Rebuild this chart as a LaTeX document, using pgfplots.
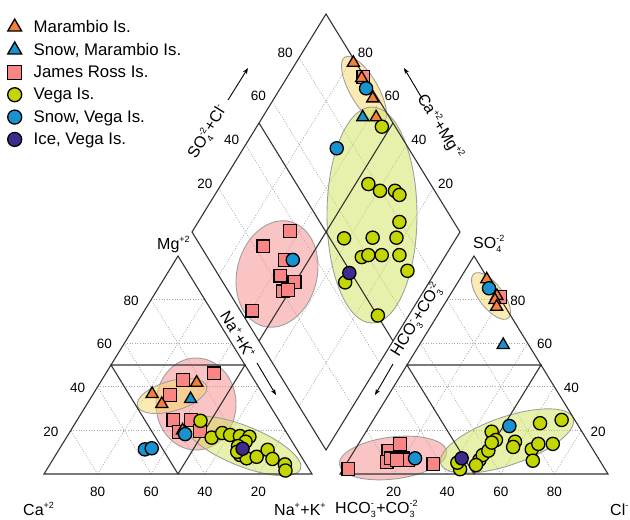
\documentclass[border=0pt]{standalone}
\usepackage{pgfplots}
\pgfplotsset{compat=1.18}
\usepackage{pgfplotstable}
\usepackage{amsmath}
\usepackage{fontspec}
\setmainfont{Liberation Sans}
\usetikzlibrary{arrows.meta}

\definecolor{cMar}{HTML}{F47F3E}
\definecolor{cSnow}{HTML}{1A92D0}
\definecolor{cJR}{HTML}{F98585}
\definecolor{cVega}{HTML}{C3D600}
\definecolor{cIce}{HTML}{3D2B8E}
\definecolor{eYel}{HTML}{F8D867}
\definecolor{ePink}{HTML}{F58A8A}
\definecolor{eGreen}{HTML}{D0E35A}
\definecolor{gridc}{HTML}{A8A8A8}
\definecolor{framec}{HTML}{333333}

\newcommand{\sups}[1]{\ensuremath{^{\text{\fontsize{9}{9}\selectfont#1}}}}
\newcommand{\subsup}[2]{\ensuremath{_{\text{\fontsize{9}{9}\selectfont#1}}^{\text{\fontsize{9}{9}\selectfont#2}}}}

% ---------------- data (percent of meq) ----------------
% cation triangle: Mg, Na+K
\pgfplotstableread{
Mg NaK
36.7 22.0
32.1 27.9
41.9 36.0
20.0 41.7
}\marL
\pgfplotstableread{
Mg NaK
34.4 37.5
}\snowmarL
\pgfplotstableread{
Mg NaK
46.2 40.4
43.1 30.3
36.2 28.9
24.8 35.9
24.8 42.5
19.3 40.7
19.7 48.4
}\jrL
\pgfplotstableread{
Mg NaK
24.4 46.2
16.7 54.2
18.8 57.1
17.9 60.5
17.4 64.4
17.1 68.1
14.8 67.8
8.7 68.8
7.2 72.0
7.9 75.4
11.1 77.9
6.9 81.8
4.4 87.7
1.6 89.3
12.8 66.0
10.2 67.0
}\vegaL
\pgfplotstableread{
Mg NaK
18.3 43.5
11.3 32.0
11.8 34.3
}\snowvegaL
\pgfplotstableread{
Mg NaK
11.6 68.3
}\iceL

% anion triangle: SO4, Cl
\pgfplotstableread{
SO4 Cl
89.3 10.1
81.7 17.7
79.8 17.9
76.7 20.1
}\marR
\pgfplotstableread{
SO4 Cl
59.2 31.3
}\snowmarR
\pgfplotstableread{
SO4 Cl
81.3 19.1
2.2 2.0
10.7 12.7
13.8 15.5
5.6 14.6
7.2 15.4
7.2 20.0
6.4 22.3
4.6 32.5
6.4 18.0
}\jrR
\pgfplotstableread{
SO4 Cl
2.2 43.7
5.2 41.2
6.4 48.8
8.7 48.9
10.7 50.0
19.4 46.9
15.6 50.4
14.4 49.4
14.8 57.9
11.3 65.9
6.1 68.9
13.8 67.1
23.3 63.0
13.8 72.5
24.8 70.3
4.1 48.7
12.4 58.4
}\vegaR
\pgfplotstableread{
SO4 Cl
85.2 13.0
7.2 24.4
22.0 52.2
}\snowvegaR
\pgfplotstableread{
SO4 Cl
7.2 41.8
}\iceR

% diamond: SO4+Cl, Na+K
\pgfplotstableread{
SC NaK
99.0 21.4
98.6 28.0
98.1 36.8
95.0 42.4
}\marD
\pgfplotstableread{
SC NaK
90.0 37.4
}\snowmarD
\pgfplotstableread{
SC NaK
99.4 28.4
36.8 36.3
23.3 29.9
28.3 41.1
23.0 43.0
26.8 49.7
20.3 47.5
22.5 49.0
4.5 40.6
}\jrD
\pgfplotstableread{
SC NaK
95.0 46.7
76.8 54.8
79.6 60.7
85.2 66.3
85.9 68.9
79.7 75.1
55.3 58.2
66.1 68.7
75.0 77.6
57.6 69.1
60.5 71.1
65.5 76.1
72.1 82.7
71.5 89.3
45.6 68.7
50.2 88.5
}\vegaD
\pgfplotstableread{
SC NaK
97.9 32.0
31.2 44.0
73.2 34.8
}\snowvegaD
\pgfplotstableread{
SC NaK
49.3 68.1
}\iceD

% placement of the three fields on the page
\pgfplotsset{
  table/lefttri/.style={x expr={44+2.68*(\thisrow{NaK}+0.5*\thisrow{Mg})}, y expr={474-2.18*\thisrow{Mg}}},
  table/righttri/.style={x expr={340+2.68*(\thisrow{Cl}+0.5*\thisrow{SO4})}, y expr={474-2.18*\thisrow{SO4}}},
  table/diam/.style={x expr={326+1.34*(\thisrow{SC}+\thisrow{NaK}-100)}, y expr={450-2.18*(\thisrow{SC}+100-\thisrow{NaK})}},
  pMar/.style={only marks, mark=triangle*, mark size=7pt, draw=black, fill=cMar, line width=1.3pt, forget plot},
  pSnowMar/.style={only marks, mark=triangle*, mark size=7pt, draw=black, fill=cSnow, line width=1.3pt, forget plot},
  pJR/.style={only marks, mark=square*, mark size=6.4pt, draw=black, fill=cJR, line width=1.3pt, forget plot},
  pVega/.style={only marks, mark=*, mark size=6.6pt, draw=black, fill=cVega, line width=1.3pt, forget plot},
  pSnowVega/.style={only marks, mark=*, mark size=6.6pt, draw=black, fill=cSnow, line width=1.3pt, forget plot},
  pIce/.style={only marks, mark=*, mark size=6.6pt, draw=black, fill=cIce, line width=1.3pt, forget plot},
}
\tikzset{
  frame/.style={draw=framec, line width=1.1pt, line join=miter},
  grd/.style={draw=gridc, line width=0.7pt, dash pattern=on 1pt off 1.6pt},
  ell/.style={draw=gray!75, line width=0.9pt, fill opacity=0.5},
  tl/.style={font=\fontsize{13.5}{15}\selectfont, inner sep=0pt},
  lab/.style={font=\fontsize{16}{18}\selectfont, inner sep=0pt},
  arr/.style={-{Stealth[length=6pt,width=4.5pt]}, line width=0.9pt},
}

\begin{document}
\begin{tikzpicture}
\begin{axis}[
  name=piper,
  width=630pt, height=520pt, scale only axis,
  xmin=0, xmax=630, ymin=0, ymax=520, y dir=reverse,
  hide axis, clip=false,
  legend style={at={(axis cs:7.5,18)}, anchor=north west, draw=none, fill=none,
    font=\fontsize{16.8}{18.5}\selectfont, row sep=5.2pt, inner sep=0pt,
    /tikz/every odd column/.append style={column sep=10pt}},
  legend cell align=left,
]

% ---- grid lines (20 % steps) ----
\pgfplotsinvokeforeach{20,40,60,80}{
  % cation triangle
  \draw[grd] (axis cs:{44+1.34*#1},{474-2.18*#1}) -- (axis cs:{312-1.34*#1},{474-2.18*#1});
  \draw[grd] (axis cs:{44+2.68*#1},474) -- (axis cs:{44+2.68*#1+1.34*(100-#1)},{474-2.18*(100-#1)});
  \draw[grd] (axis cs:{44+2.68*#1},474) -- (axis cs:{44+1.34*#1},{474-2.18*#1});
  % anion triangle
  \draw[grd] (axis cs:{340+1.34*#1},{474-2.18*#1}) -- (axis cs:{608-1.34*#1},{474-2.18*#1});
  \draw[grd] (axis cs:{340+2.68*#1},474) -- (axis cs:{340+2.68*#1+1.34*(100-#1)},{474-2.18*(100-#1)});
  \draw[grd] (axis cs:{340+2.68*#1},474) -- (axis cs:{340+1.34*#1},{474-2.18*#1});
  % diamond
  \draw[grd] (axis cs:{326+1.34*#1},{450-2.18*#1}) -- (axis cs:{192+1.34*#1},{232-2.18*#1});
  \draw[grd] (axis cs:{326-1.34*#1},{450-2.18*#1}) -- (axis cs:{460-1.34*#1},{232-2.18*#1});
}

% ---- groupings ----
\draw[ell, fill=ePink] (axis cs:196,404) ellipse [x radius=40pt, y radius=46pt];
\draw[ell, fill=eYel, rotate around={16:(axis cs:172,396)}] (axis cs:172,396) ellipse [x radius=36pt, y radius=15pt];
\draw[ell, fill=eGreen, rotate around={-22:(axis cs:243,446)}] (axis cs:243,446) ellipse [x radius=62pt, y radius=20pt];
\draw[ell, fill=eYel, rotate around={-60:(axis cs:364,90)}] (axis cs:364,90) ellipse [x radius=38pt, y radius=14pt];
\draw[ell, fill=eGreen] (axis cs:372,215) ellipse [x radius=45pt, y radius=108pt];
\draw[ell, fill=ePink, rotate around={75.6:(axis cs:277,274)}] (axis cs:277,274) ellipse [x radius=54pt, y radius=40pt];
\draw[ell, fill=eYel, rotate around={-52.5:(axis cs:491,296)}] (axis cs:491,296) ellipse [x radius=28pt, y radius=12pt];
\draw[ell, fill=ePink, rotate around={7:(axis cs:393,458)}] (axis cs:393,458) ellipse [x radius=54pt, y radius=21pt];
\draw[ell, fill=eGreen, rotate around={19:(axis cs:507,441)}] (axis cs:507,441) ellipse [x radius=70pt, y radius=24pt];

% ---- outlines and 50 % subdivisions ----
\draw[frame] (axis cs:44,474) -- (axis cs:312,474) -- (axis cs:178,256) -- cycle;
\draw[frame] (axis cs:111,365) -- (axis cs:245,365) -- (axis cs:178,474) -- cycle;
\draw[frame] (axis cs:340,474) -- (axis cs:608,474) -- (axis cs:474,256) -- cycle;
\draw[frame] (axis cs:407,365) -- (axis cs:541,365) -- (axis cs:474,474) -- cycle;
\draw[frame] (axis cs:326,14) -- (axis cs:192,232) -- (axis cs:326,450) -- (axis cs:460,232) -- cycle;
\draw[frame] (axis cs:259,123) -- (axis cs:393,341);
\draw[frame] (axis cs:393,123) -- (axis cs:259,341);

% ---- tick labels ----
\pgfplotsinvokeforeach{20,40,60,80}{
  \node[tl] at (axis cs:{44+2.68*(100-#1)},492) {#1};
  \node[tl] at (axis cs:{44+1.34*#1-20},{475-2.18*#1}) {#1};
  \node[tl] at (axis cs:{340+2.68*#1},492) {#1};
  \node[tl] at (axis cs:{608-1.34*#1+17},{475-2.18*#1}) {#1};
  \node[tl] at (axis cs:{192+1.34*#1-14},{232-2.18*#1-5}) {#1};
  \node[tl] at (axis cs:{460-1.34*#1+12.5},{232-2.18*#1-5}) {#1};
}

% ---- axis titles ----
\node[lab, anchor=base west] at (axis cs:23,515) {Ca\sups{+2}};
\node[lab, anchor=base west] at (axis cs:274,515) {Na\sups{+}+K\sups{+}};
\node[lab, anchor=base west] at (axis cs:335,513) {HCO\subsup{3}{-}+CO\subsup{3}{-2}};
\node[lab, anchor=base west] at (axis cs:610,515) {Cl\sups{-}};
\node[lab, anchor=base west] at (axis cs:157,249) {Mg\sups{+2}};
\node[lab, anchor=base west] at (axis cs:473,248) {SO\subsup{4}{-2}};
\node[lab, rotate=58.4] at (axis cs:208,132) {SO\subsup{4}{-2}+Cl\sups{-}};
\draw[arr] (axis cs:228,100) -- (axis cs:248,68);
\node[lab, rotate=-58.4] at (axis cs:440,127) {Ca\sups{+2}+Mg\sups{+2}};
\draw[arr] (axis cs:423,100) -- (axis cs:404,68);
\node[lab, rotate=-58.4] at (axis cs:238,335) {Na\sups{+}+K\sups{+}};
\draw[arr] (axis cs:257,363) -- (axis cs:276,395);
\node[lab, rotate=58.4] at (axis cs:417,320) {HCO\subsup{3}{-}+CO\subsup{3}{-2}};
\draw[arr] (axis cs:393,364) -- (axis cs:375,395);

% ---- samples ----
\addplot[pJR] table[lefttri] {\jrL};
\addplot[pJR] table[righttri] {\jrR};
\addplot[pJR] table[diam] {\jrD};
\addplot[pMar] table[lefttri] {\marL};
\addplot[pMar] table[righttri] {\marR};
\addplot[pMar] table[diam] {\marD};
\addplot[pSnowMar] table[lefttri] {\snowmarL};
\addplot[pSnowMar] table[righttri] {\snowmarR};
\addplot[pSnowMar] table[diam] {\snowmarD};
\addplot[pVega] table[lefttri] {\vegaL};
\addplot[pVega] table[righttri] {\vegaR};
\addplot[pVega] table[diam] {\vegaD};
\addplot[pSnowVega] table[lefttri] {\snowvegaL};
\addplot[pSnowVega] table[righttri] {\snowvegaR};
\addplot[pSnowVega] table[diam] {\snowvegaD};
\addplot[pIce] table[lefttri] {\iceL};
\addplot[pIce] table[righttri] {\iceR};
\addplot[pIce] table[diam] {\iceD};

% ---- legend ----
\addlegendimage{only marks, mark=triangle*, mark size=8pt, draw=black, fill=cMar, line width=1.3pt}
\addlegendentry{Marambio Is.}
\addlegendimage{only marks, mark=triangle*, mark size=8pt, draw=black, fill=cSnow, line width=1.3pt}
\addlegendentry{Snow, Marambio Is.}
\addlegendimage{only marks, mark=square*, mark size=7pt, draw=black, fill=cJR, line width=1.3pt}
\addlegendentry{James Ross Is.}
\addlegendimage{only marks, mark=*, mark size=7pt, draw=black, fill=cVega, line width=1.3pt}
\addlegendentry{Vega Is.}
\addlegendimage{only marks, mark=*, mark size=7pt, draw=black, fill=cSnow, line width=1.3pt}
\addlegendentry{Snow, Vega Is.}
\addlegendimage{only marks, mark=*, mark size=7pt, draw=black, fill=cIce, line width=1.3pt}
\addlegendentry{Ice, Vega Is.}
\end{axis}
\pgfresetboundingbox
\path (piper.south west) rectangle (piper.north east);
\end{tikzpicture}
\end{document}
